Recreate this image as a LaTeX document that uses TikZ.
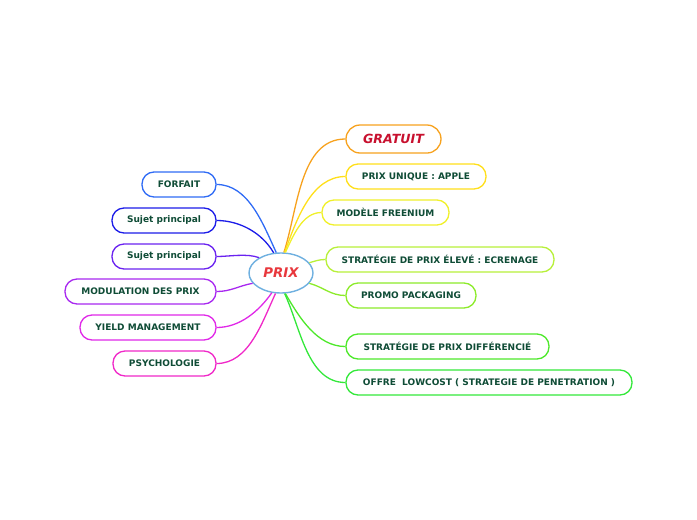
\documentclass[tikz,border=0pt]{standalone}
\usepackage{fontspec}
\setmainfont{DejaVu Sans}
\usetikzlibrary{shapes.geometric}
\definecolor{txt}{HTML}{0F4C36}
\definecolor{cgrat}{HTML}{F7A21E}
\definecolor{cuniq}{HTML}{FFDF1A}
\definecolor{cfree}{HTML}{F0F02A}
\definecolor{cecre}{HTML}{B8F03A}
\definecolor{cpromo}{HTML}{8CEB2A}
\definecolor{cdiff}{HTML}{4DE82A}
\definecolor{clow}{HTML}{33E83A}
\definecolor{cforf}{HTML}{2F6BF5}
\definecolor{csuj}{HTML}{1C1CE8}
\definecolor{csujb}{HTML}{6A22F0}
\definecolor{cmod}{HTML}{A828F0}
\definecolor{cyield}{HTML}{E028E8}
\definecolor{cpsy}{HTML}{F028C8}
\definecolor{cprix}{HTML}{6FB0E0}
\definecolor{tprix}{HTML}{E8383D}
\definecolor{tgrat}{HTML}{C8102E}
\tikzset{
  topic/.style={draw=#1, line width=1.3pt, rounded corners=12pt, fill=white,
    minimum height=25pt, inner sep=0pt, text=txt,
    font=\fontsize{9}{10.8}\selectfont\bfseries},
  link/.style={draw=#1, line width=1.3pt},
}
\begin{document}
\begin{tikzpicture}[x=1pt,y=-1pt]
\useasboundingbox (0,0) rectangle (697,520);
\node[ellipse, draw=cprix, line width=1.4pt, fill=white, minimum width=64pt, minimum height=40pt, inner sep=0pt,
  text=tprix, font=\fontsize{13.3}{15}\selectfont\bfseries\itshape] (prix) at (281,273) {PRIX};

\node[topic=cgrat, minimum width=95pt, minimum height=28pt, rounded corners=14pt, text=tgrat,
  font=\fontsize{12.6}{14}\selectfont\bfseries\itshape] (grat) at (393.5,139) {GRATUIT};
\node[topic=cuniq, minimum width=140pt] (uniq) at (416,176.5) {PRIX UNIQUE : APPLE};
\node[topic=cfree, minimum width=127pt] (free) at (385.5,212.5) {MODÈLE FREENIUM};
\node[topic=cecre, minimum width=228pt] (ecre) at (440,259.5) {STRATÉGIE DE PRIX ÉLEVÉ : ECRENAGE};
\node[topic=cpromo, minimum width=130pt] (promo) at (411,295.5) {PROMO PACKAGING};
\node[topic=cdiff, minimum width=203pt] (diff) at (447.5,346.5) {STRATÉGIE DE PRIX DIFFÉRENCIÉ};
\node[topic=clow, minimum width=286pt] (low) at (489,382.5) {OFFRE\ \ LOWCOST ( STRATEGIE DE PENETRATION )};

\node[topic=cforf, minimum width=74pt] (forf) at (179,184.5) {FORFAIT};
\node[topic=csuj, minimum width=104pt] (suja) at (164,220.5) {Sujet principal};
\node[topic=csujb, minimum width=104pt] (sujb) at (164,256.5) {Sujet principal};
\node[topic=cmod, minimum width=151pt] (mod) at (140.5,291.5) {MODULATION DES PRIX};
\node[topic=cyield, minimum width=136pt] (yield) at (148,327.5) {YIELD MANAGEMENT};
\node[topic=cpsy, minimum width=103pt] (psy) at (164.5,363.5) {PSYCHOLOGIE};

% right connectors
\draw[link=cgrat] (prix.82) to[out=72,in=180,looseness=0.9] (grat.west);
\draw[link=cuniq] (prix.80) to[out=70,in=180,looseness=0.9] (uniq.west);
\draw[link=cfree] (prix.78) to[out=65,in=180,looseness=0.9] (free.west);
\draw[link=cecre] (prix.20) to[out=15,in=180] (ecre.west);
\draw[link=cpromo] (prix.-20) to[out=-15,in=180] (promo.west);
\draw[link=cdiff] (prix.-78) to[out=-60,in=180,looseness=0.9] (diff.west);
\draw[link=clow] (prix.-80) to[out=-65,in=180,looseness=0.9] (low.west);
% left connectors
\draw[link=cforf] (prix.103) to[out=115,in=0,looseness=0.9] (forf.east);
\draw[link=csuj] (prix.110) to[out=120,in=0,looseness=0.9] (suja.east);
\draw[link=csujb] (prix.145) to[out=160,in=0,looseness=0.8] (sujb.east);
\draw[link=cmod] (prix.200) to[out=190,in=0] (mod.east);
\draw[link=cyield] (prix.245) to[out=235,in=0,looseness=0.9] (yield.east);
\draw[link=cpsy] (prix.255) to[out=245,in=0,looseness=0.9] (psy.east);
\end{tikzpicture}
\end{document}
